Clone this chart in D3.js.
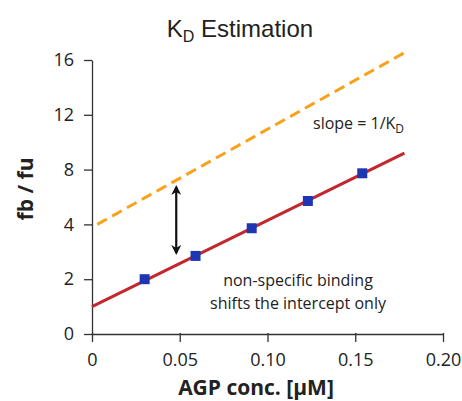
<!DOCTYPE html>
<html>
<head>
<meta charset="utf-8">
<script src="https://cdn.jsdelivr.net/npm/d3@7"></script>
<style>
  body { margin: 0; background: #fff; }
  text { fill: #222; }
</style>
</head>
<body>
<svg id="chart" width="462" height="401"></svg>
<script>
// x ticks and y tick labels (the y axis is spaced evenly per label)
var xTicks = [0, 0.05, 0.10, 0.15, 0.20];
var xTickLabels = ['0', '0.05', '0.10', '0.15', '0.20'];
var yTicks = [0, 2, 4, 8, 12, 16];

// measured points (AGP conc., fb/fu)
var conc = [0.030, 0.059, 0.091, 0.123, 0.154];
var ratio = [2.0, 2.85, 3.86, 5.71, 7.73];

// fitted line and the shifted (non-specific) line, start and end
var fitX = [0, 0.178];
var fitY = [1.0, 9.2];
var shiftX = [0.003, 0.179];
var shiftY = [4.0, 16.6];

// double arrow between the two lines
var arrowX = 0.048;
var arrowY = [6.73, 2.96];

var svg = d3.select('#chart');
// note: "top" is a reserved window property, so plot_* names here
var plotLeft = 92, plotRight = 443, plotTop = 60, plotBottom = 334;

var x = d3.scaleLinear().domain([0, 0.20]).range([plotLeft, plotRight]);
var yRange = yTicks.map(function(d, i){ return plotBottom - i * (plotBottom - plotTop) / (yTicks.length - 1); });
var y = d3.scaleLinear().domain(yTicks).range(yRange);

// axes
var xAxis = svg.append('g')
    .attr('transform', 'translate(0,' + plotBottom + ')')
    .call(d3.axisBottom(x).tickValues(xTicks).tickFormat(function(d, i){ return xTickLabels[i]; })
        .tickSize(8).tickSizeOuter(0).tickPadding(11));
var yAxis = svg.append('g')
    .attr('transform', 'translate(' + plotLeft + ',0)')
    .call(d3.axisLeft(y).tickValues(yTicks).tickFormat(d3.format('d'))
        .tickSize(8).tickSizeOuter(0).tickPadding(10));

[xAxis, yAxis].forEach(function(a){
    a.select('.domain').attr('stroke', '#333').attr('stroke-width', 1.3);
    a.selectAll('.tick line').attr('stroke', '#333').attr('stroke-width', 1.3);
    a.selectAll('.tick text').attr('font-family', 'Open Sans').attr('font-size', 18).attr('fill', '#222');
});
xAxis.selectAll('.tick line').attr('y1', -1);

// lines
var line = d3.line().x(function(d){ return x(d[0]); }).y(function(d){ return y(d[1]); });

svg.append('path')
    .datum(d3.zip(shiftX, shiftY))
    .attr('d', line)
    .attr('fill', 'none')
    .attr('stroke', '#f7a21b')
    .attr('stroke-width', 3)
    .attr('stroke-dasharray', '11,6');

svg.append('path')
    .datum(d3.zip(fitX, fitY))
    .attr('d', line)
    .attr('fill', 'none')
    .attr('stroke', '#c1272d')
    .attr('stroke-width', 3);

// points
var sq = 10;
svg.selectAll('rect.pt')
    .data(d3.zip(conc, ratio))
    .enter().append('rect')
    .attr('class', 'pt')
    .attr('x', function(d){ return x(d[0]) - sq / 2; })
    .attr('y', function(d){ return y(d[1]) - sq / 2; })
    .attr('width', sq)
    .attr('height', sq)
    .attr('fill', '#1e36b4');

// double arrow
svg.append('defs').append('marker')
    .attr('id', 'head')
    .attr('viewBox', '0 0 10 10')
    .attr('refX', 8).attr('refY', 5)
    .attr('markerWidth', 10).attr('markerHeight', 10)
    .attr('markerUnits', 'userSpaceOnUse')
    .attr('orient', 'auto-start-reverse')
    .append('path')
    .attr('d', 'M0,0 L10,5 L0,10 L3,5 Z')
    .attr('fill', '#111');

svg.append('line')
    .attr('x1', x(arrowX)).attr('x2', x(arrowX))
    .attr('y1', y(arrowY[0])).attr('y2', y(arrowY[1]))
    .attr('stroke', '#111')
    .attr('stroke-width', 2.2)
    .attr('marker-start', 'url(#head)')
    .attr('marker-end', 'url(#head)');

// title
var title = svg.append('text')
    .attr('x', 240).attr('y', 37)
    .attr('text-anchor', 'middle')
    .attr('font-family', 'Liberation Sans, Arial')
    .attr('font-size', 24);
title.append('tspan').text('K');
title.append('tspan').attr('font-size', 16).attr('dy', 5).text('D');
title.append('tspan').attr('dy', -5).text(' Estimation');

// axis titles
svg.append('text')
    .attr('transform', 'translate(33,189) rotate(-90)')
    .attr('text-anchor', 'middle')
    .attr('font-family', 'Open Sans')
    .attr('font-weight', 'bold')
    .attr('font-size', 21)
    .text('fb / fu');

svg.append('text')
    .attr('x', 256).attr('y', 395)
    .attr('text-anchor', 'middle')
    .attr('font-family', 'Open Sans')
    .attr('font-weight', 'bold')
    .attr('font-size', 21)
    .text('AGP conc. [µM]');

// annotations
var slope = svg.append('text')
    .attr('x', 313).attr('y', 129)
    .attr('font-family', 'Open Sans')
    .attr('font-size', 16);
slope.append('tspan').text('slope = 1/K');
slope.append('tspan').attr('font-size', 12).attr('dy', 4).text('D');

svg.append('text')
    .attr('x', 298).attr('y', 286)
    .attr('text-anchor', 'middle')
    .attr('font-family', 'Open Sans')
    .attr('font-size', 16)
    .text('non-specific binding');
svg.append('text')
    .attr('x', 298).attr('y', 309)
    .attr('text-anchor', 'middle')
    .attr('font-family', 'Open Sans')
    .attr('font-size', 16)
    .text('shifts the intercept only');
</script>
</body>
</html>
